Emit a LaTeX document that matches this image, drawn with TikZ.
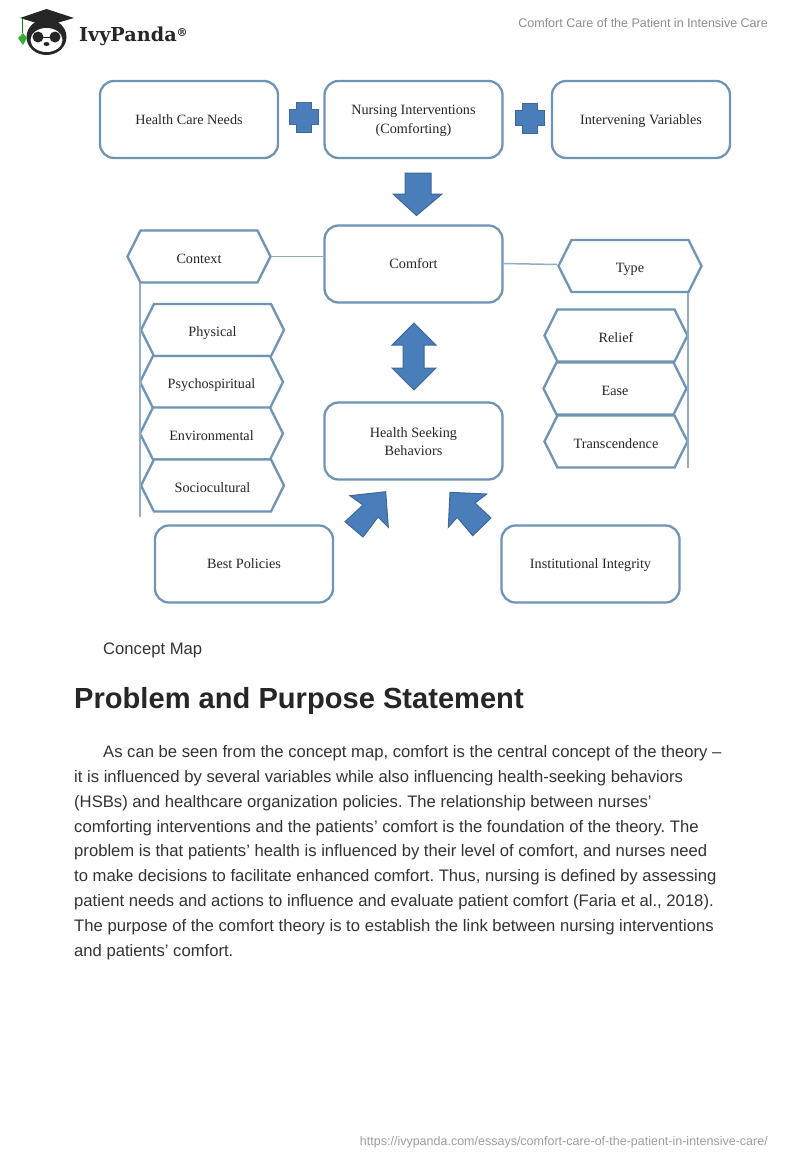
\documentclass[tikz,border=0pt]{standalone}
\usepackage{fontspec}
\setmainfont{Liberation Serif}
\newfontfamily\pagefont{Liberation Sans}
\newfontfamily\logofont{DejaVu Serif}
\usetikzlibrary{shapes.symbols}
\definecolor{boxline}{HTML}{6F94B4}
\definecolor{linkline}{HTML}{93ADC6}
\definecolor{blockfill}{HTML}{4A7EBB}
\definecolor{blockline}{HTML}{3F6797}
\definecolor{pagetext}{HTML}{333333}
\definecolor{graytext}{HTML}{8C8C8C}
\tikzset{
  mapbox/.style={draw=boxline,line width=2.3pt,rounded corners=14pt,fill=white,
    minimum width=178pt,minimum height=77pt,inner sep=0pt,align=center,
    text height=12pt,text depth=3pt,
    text=black!85,font=\fontsize{14.2}{18}\selectfont},
  maphex/.style={draw=boxline,line width=2.3pt,fill=white,shape=signal,
    signal to=east and west,signal pointer angle=127,
    minimum width=143pt,minimum height=52pt,inner sep=0pt,align=center,
    text height=16pt,text depth=3pt,
    text=black!85,font=\fontsize{14.2}{18}\selectfont},
  maplink/.style={draw=linkline,line width=1.5pt},
  block/.style={draw=blockline,line width=1pt,fill=blockfill,line join=miter},
  plussign/.pic={
    \draw[block] (-7.5,-15)--(7.5,-15)--(7.5,-7.5)--(14.5,-7.5)--(14.5,7.5)--(7.5,7.5)
      --(7.5,15)--(-7.5,15)--(-7.5,7.5)--(-14.5,7.5)--(-14.5,-7.5)--(-7.5,-7.5)--cycle;
  }
}
\begin{document}
\frenchspacing
\begin{tikzpicture}[x=1pt,y=-1pt]
    \useasboundingbox (0,0) rectangle (800,1160);
    % page head
    \fill[black!85] (46.5,9)--(74,18)--(46.5,26)--(20,18)--cycle;
    \fill[black!85] (46.5,37) ellipse (20 and 18);
    \fill[white] (46.5,40) ellipse (16 and 12);
    \fill[black!85] (38,37) circle (5.5) (55,37) circle (5.5);
    \fill[black!85] (46.5,44) ellipse (3 and 2);
    \draw[black!85,line width=.8pt] (43,37)--(50,37);
    \draw[green!55!black,line width=.8pt] (22.5,18)--(22.5,33);
    \fill[green!60!black!80] (23,33)--(27,38)--(23,45)--(18,38)--cycle;
    \node[anchor=base west,inner sep=0pt,text=black!85,font=\logofont\bfseries\fontsize{19.2}{20}\selectfont]
      (brand) at (79,41) {IvyPanda\raisebox{5pt}{\fontsize{11}{11}\selectfont ®}};
    \node[anchor=base east,inner sep=0pt,text=graytext,font=\pagefont\fontsize{12.5}{14}\selectfont]
      (pagetitle) at (768,27) {Comfort Care of the Patient in Intensive Care};
    % top row
    \node[mapbox] (needs) at (189,119.5) {Health Care Needs};
    \node[mapbox,text height=,text depth=] (nursing) at (413.5,119.5) {\rule{0pt}{13pt}Nursing Interventions\\[1pt](Comforting)};
    \node[mapbox] (variables) at (641,119.5) {Intervening Variables};
    \pic at (304,117) {plussign};
    \pic at (530,118) {plussign};
    \draw[block] (405,173)--(431,173)--(431,194)--(442,194)--(416.5,215.5)--(393,194)--(405,194)--cycle;
    % middle
    \node[mapbox] (comfort) at (413.5,264) {Comfort};
    \node[mapbox,text height=,text depth=] (seeking) at (413.5,441) {\rule{0pt}{11.5pt}Health Seeking\\Behaviors};
    \draw[block] (414,323)--(436,345)--(424,345)--(424,368)--(436,368)--(414,390)--(392,368)
      --(403,368)--(403,345)--(392,345)--cycle;
    % left column
    \node[maphex] (context) at (199,256.5) {Context};
    \node[maphex] (physical) at (212.5,330) {Physical};
    \node[maphex] (psycho) at (211.5,382) {Psychospiritual};
    \node[maphex] (environ) at (211.5,433.5) {Environmental};
    \node[maphex] (socio) at (212.5,485.5) {Sociocultural};
    \coordinate (leftfoot) at (140,517);
    \coordinate (lefttop) at (140,283);
    \draw[maplink] (context.east)--(context.east -| comfort.west);
    \draw[maplink] (lefttop)--(leftfoot);
    % right column
    \node[maphex] (type) at (630,266) {Type};
    \node[maphex] (relief) at (616,335.5) {Relief};
    \node[maphex] (ease) at (615,388.5) {Ease};
    \node[maphex] (transc) at (616,441.5) {Transcendence};
    \coordinate (rightfoot) at (688,468);
    \coordinate (righttop) at (688,293);
    \draw[maplink] (comfort.east |- 0,263.5)--(type.west |- 0,264.5);
    \draw[maplink] (righttop)--(rightfoot);
    % bottom
    \node[mapbox] (policies) at (244,564) {Best Policies};
    \node[mapbox] (integrity) at (590.5,564) {Institutional Integrity};
    \draw[block] (385.7,491.7)--(388.3,527.3)--(378,517)--(363,537)--(345,521.7)--(363,505)--(350,495.7)--cycle;
    \draw[block] (450,492.3)--(486.7,494)--(475,503)--(491,518)--(472.7,535.7)--(457.3,517.3)--(448.3,527.3)--cycle;
    % text under the map
    \node[anchor=base west,inner sep=0pt,text=pagetext,font=\pagefont\fontsize{16.65}{20}\selectfont]
      (caption) at (103,654) {Concept Map};
    \node[anchor=base west,inner sep=0pt,text=black!85,font=\pagefont\bfseries\fontsize{29.1}{32}\selectfont]
      (heading) at (74,708) {Problem and Purpose Statement};
    \node[anchor=north west,inner sep=0pt,text=pagetext,align=left,font=\pagefont\fontsize{16.65}{24.8}\selectfont]
      (statement) at (74,745.5) {\hspace*{29pt}As can be seen from the concept map, comfort is the central concept of the theory –\\
      it is influenced by several variables while also influencing health-seeking behaviors\\
      (HSBs) and healthcare organization policies. The relationship between nurses’\\
      comforting interventions and the patients’ comfort is the foundation of the theory. The\\
      problem is that patients’ health is influenced by their level of comfort, and nurses need\\
      to make decisions to facilitate enhanced comfort. Thus, nursing is defined by assessing\\
      patient needs and actions to influence and evaluate patient comfort (Faria et al., 2018).\\
      The purpose of the comfort theory is to establish the link between nursing interventions\\
      and patients’ comfort.};
    \node[anchor=base east,inner sep=0pt,text=graytext!85,font=\pagefont\fontsize{12.5}{14}\selectfont]
      (pageurl) at (768,1145) {https://ivypanda.com/essays/comfort-care-of-the-patient-in-intensive-care/};
\end{tikzpicture}
\end{document}
